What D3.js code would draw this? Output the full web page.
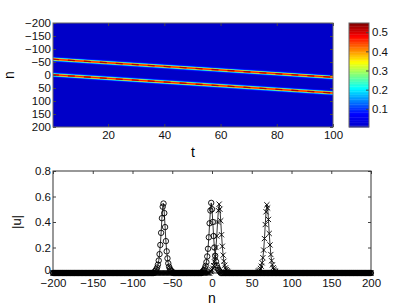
<!DOCTYPE html>
<html>
<head>
<meta charset="utf-8">
<script src="https://cdn.jsdelivr.net/npm/d3@7"></script>
<style>
  body { margin: 0; background: #fff; }
  svg { display: block; font-family: "Liberation Sans", Arial, sans-serif; }
</style>
</head>
<body>
<svg width="409" height="307"></svg>
<script>
// ---- data ----
var tTicks = [20, 40, 60, 80, 100];
var nTicks = [-200, -150, -100, -50, 0, 50, 100, 150, 200];
var cbTicks = [0.1, 0.2, 0.3, 0.4, 0.5];
var uTicks = [0, 0.2, 0.4, 0.6, 0.8];

// soliton tracks in the (t, n) map
var trackT = [0, 100];
var trackUpper = [-61, 9];
var trackLower = [-1, 69];

// |u| around each peak, sites center-11 .. center+11
var peakOffsets = d3.range(-11, 12);
var circleCenters = [-61, -1];
var crossCenters = [9, 69];
var circlePeakA = [0.012,0.018,0.028,0.043,0.065,0.098,0.148,0.22,0.315,0.43,0.52,0.545,0.47,0.36,0.25,0.17,0.115,0.076,0.05,0.033,0.022,0.015,0.01];
var circlePeakB = [0.01,0.015,0.024,0.037,0.056,0.085,0.13,0.19,0.28,0.39,0.49,0.55,0.5,0.4,0.29,0.2,0.135,0.09,0.06,0.04,0.026,0.017,0.011];
var crossPeakA = [0.011,0.016,0.025,0.038,0.058,0.088,0.13,0.2,0.29,0.4,0.49,0.54,0.5,0.41,0.3,0.21,0.14,0.092,0.061,0.04,0.027,0.018,0.012];
var crossPeakB = [0.01,0.015,0.023,0.035,0.053,0.08,0.12,0.18,0.27,0.38,0.48,0.535,0.51,0.42,0.31,0.22,0.145,0.096,0.064,0.042,0.028,0.018,0.012];

var svg = d3.select("svg");
var axisCol = "#444";
var plain = function(d) { return String(d); };

// build lattice series (zero away from the peaks)
var sites = d3.range(-200, 201);
function buildSeries(centers, peaks) {
  return sites.map(function(n) {
    var v = 0;
    centers.forEach(function(c, i) {
      var k = peakOffsets.indexOf(n - c);
      if (k >= 0) v = peaks[i][k];
    });
    return {n: n, u: v};
  });
}
var circleSeries = buildSeries(circleCenters, [circlePeakA, circlePeakB]);
var crossSeries = buildSeries(crossCenters, [crossPeakA, crossPeakB]);

// jet-like colormap
var jet = d3.scaleLinear()
  .domain([0, 0.125, 0.375, 0.625, 0.875, 1])
  .range(["#0000c8", "#0000ff", "#00ffff", "#ffff00", "#ff0000", "#800000"])
  .clamp(true);
var cval = d3.scaleLinear().domain([0.005, 0.548]).range([0, 1]);

//////////// TOP MAP ////////////
var x1 = d3.scaleLinear().domain([0.4, 100]).range([53, 333]);
var y1 = d3.scaleLinear().domain([-200, 200]).range([23, 127]);

svg.append("clipPath").attr("id", "clipTop")
  .append("rect").attr("x", 53).attr("y", 23).attr("width", 280).attr("height", 104);

var map = svg.append("g").attr("clip-path", "url(#clipTop)");
map.append("rect").attr("x", 53).attr("y", 23).attr("width", 280).attr("height", 104)
  .attr("fill", jet(0));

var levels = [0.025, 0.07, 0.14, 0.21, 0.29, 0.37, 0.44];
var rowPx = (y1(1) - y1(0)) * 1.3;
var trackLine = d3.line().x(function(d) { return x1(d[0]); }).y(function(d) { return y1(d[1]); });

[trackUpper, trackLower].forEach(function(tr) {
  var pts = trackT.map(function(t, i) { return [t, tr[i]]; });
  levels.forEach(function(lv) {
    var cnt = crossPeakB.filter(function(v) { return v >= lv; }).length;
    map.append("path").attr("d", trackLine(pts))
      .attr("fill", "none")
      .attr("stroke", jet(cval(lv + 0.03)))
      .attr("stroke-width", Math.max(cnt * rowPx, 0.8));
  });
  map.append("path").attr("d", trackLine(pts))
    .attr("fill", "none")
    .attr("stroke", jet(cval(0.52)))
    .attr("stroke-width", 1.3)
    .attr("stroke-dasharray", "7 9");
});

// axes of the map (ticks inside)
svg.append("g").attr("transform", "translate(0,127)")
  .call(d3.axisBottom(x1).tickValues(tTicks).tickSize(-3).tickPadding(4).tickFormat(plain))
  .call(styleAxis);
svg.append("g").attr("transform", "translate(0,23)")
  .call(d3.axisTop(x1).tickValues(tTicks).tickSize(-3).tickFormat(""))
  .call(styleAxis);
svg.append("g").attr("transform", "translate(53,0)")
  .call(d3.axisLeft(y1).tickValues(nTicks).tickSize(-3).tickPadding(2))
  .call(styleAxis);
svg.append("g").attr("transform", "translate(333,0)")
  .call(d3.axisRight(y1).tickValues(nTicks).tickSize(-3).tickFormat(""))
  .call(styleAxis);
svg.append("rect").attr("x", 53).attr("y", 23).attr("width", 280).attr("height", 104)
  .attr("fill", "none").attr("stroke", "#666").attr("stroke-width", 1);

svg.append("text").attr("transform", "translate(14,75) rotate(-90)")
  .attr("text-anchor", "middle").attr("font-size", 14).text("n");
svg.append("text").attr("x", 193).attr("y", 157)
  .attr("text-anchor", "middle").attr("font-size", 14).text("t");

//////////// COLORBAR ////////////
var cy = d3.scaleLinear().domain([0.005, 0.548]).range([127, 23]);
var cbSteps = d3.range(0, 64);
svg.append("g").selectAll("rect").data(cbSteps).enter().append("rect")
  .attr("x", 349)
  .attr("width", 20)
  .attr("y", function(i) { return 23 + 104 * (63 - i) / 64; })
  .attr("height", 104 / 64 + 0.4)
  .attr("fill", function(i) { return jet((i + 0.5) / 64); });
svg.append("g").attr("transform", "translate(369,0)")
  .call(d3.axisRight(cy).tickValues(cbTicks).tickSize(-3).tickPadding(3).tickFormat(plain))
  .call(styleAxis);
svg.append("rect").attr("x", 349).attr("y", 23).attr("width", 20).attr("height", 104)
  .attr("fill", "none").attr("stroke", "#666").attr("stroke-width", 1);

//////////// BOTTOM PROFILE ////////////
var x2 = d3.scaleLinear().domain([-200, 200]).range([53, 371]);
var y2 = d3.scaleLinear().domain([0, 0.8]).range([273, 171]);

svg.append("g").attr("transform", "translate(0,273)")
  .call(d3.axisBottom(x2).tickValues(nTicks).tickSize(-3).tickPadding(6))
  .call(styleAxis);
svg.append("g").attr("transform", "translate(0,171)")
  .call(d3.axisTop(x2).tickValues(nTicks).tickSize(-3).tickFormat(""))
  .call(styleAxis);
svg.append("g").attr("transform", "translate(53,0)")
  .call(d3.axisLeft(y2).tickValues(uTicks).tickSize(-3).tickPadding(2).tickFormat(plain))
  .call(styleAxis)
  .call(function(g) {
    // lift the "0" a little so it sits just above "-200", as in the original
    g.selectAll(".tick").filter(function(d) { return d === 0; })
      .select("text").attr("dy", "0.05em");
  });
svg.append("g").attr("transform", "translate(371,0)")
  .call(d3.axisRight(y2).tickValues(uTicks).tickSize(-3).tickFormat(""))
  .call(styleAxis);
svg.append("rect").attr("x", 53).attr("y", 171).attr("width", 318).attr("height", 102)
  .attr("fill", "none").attr("stroke", "#333").attr("stroke-width", 1);

var uLine = d3.line().x(function(d) { return x2(d.n); }).y(function(d) { return y2(d.u); });
[circleSeries, crossSeries].forEach(function(s) {
  svg.append("path").datum(s).attr("d", uLine)
    .attr("fill", "none").attr("stroke", "#000").attr("stroke-width", 0.8);
});

svg.append("g").selectAll("circle").data(circleSeries).enter().append("circle")
  .attr("cx", function(d) { return x2(d.n); })
  .attr("cy", function(d) { return y2(d.u); })
  .attr("r", 2.7)
  .attr("fill", "none").attr("stroke", "#000").attr("stroke-width", 0.9);

svg.append("g").selectAll("path").data(crossSeries).enter().append("path")
  .attr("transform", function(d) { return "translate(" + x2(d.n) + "," + y2(d.u) + ")"; })
  .attr("d", "M-2.6,-2.6L2.6,2.6M-2.6,2.6L2.6,-2.6")
  .attr("fill", "none").attr("stroke", "#000").attr("stroke-width", 0.9);

svg.append("text").attr("transform", "translate(21,222) rotate(-90)")
  .attr("text-anchor", "middle").attr("font-size", 13).text("|u|");
svg.append("text").attr("x", 212).attr("y", 303)
  .attr("text-anchor", "middle").attr("font-size", 14).text("n");

function styleAxis(g) {
  g.select(".domain").remove();
  g.selectAll(".tick line").attr("stroke", axisCol);
  g.selectAll(".tick text").attr("font-size", 11.5).attr("fill", "#111")
    .attr("font-family", "Liberation Sans, Arial, sans-serif");
}
</script>
</body>
</html>
